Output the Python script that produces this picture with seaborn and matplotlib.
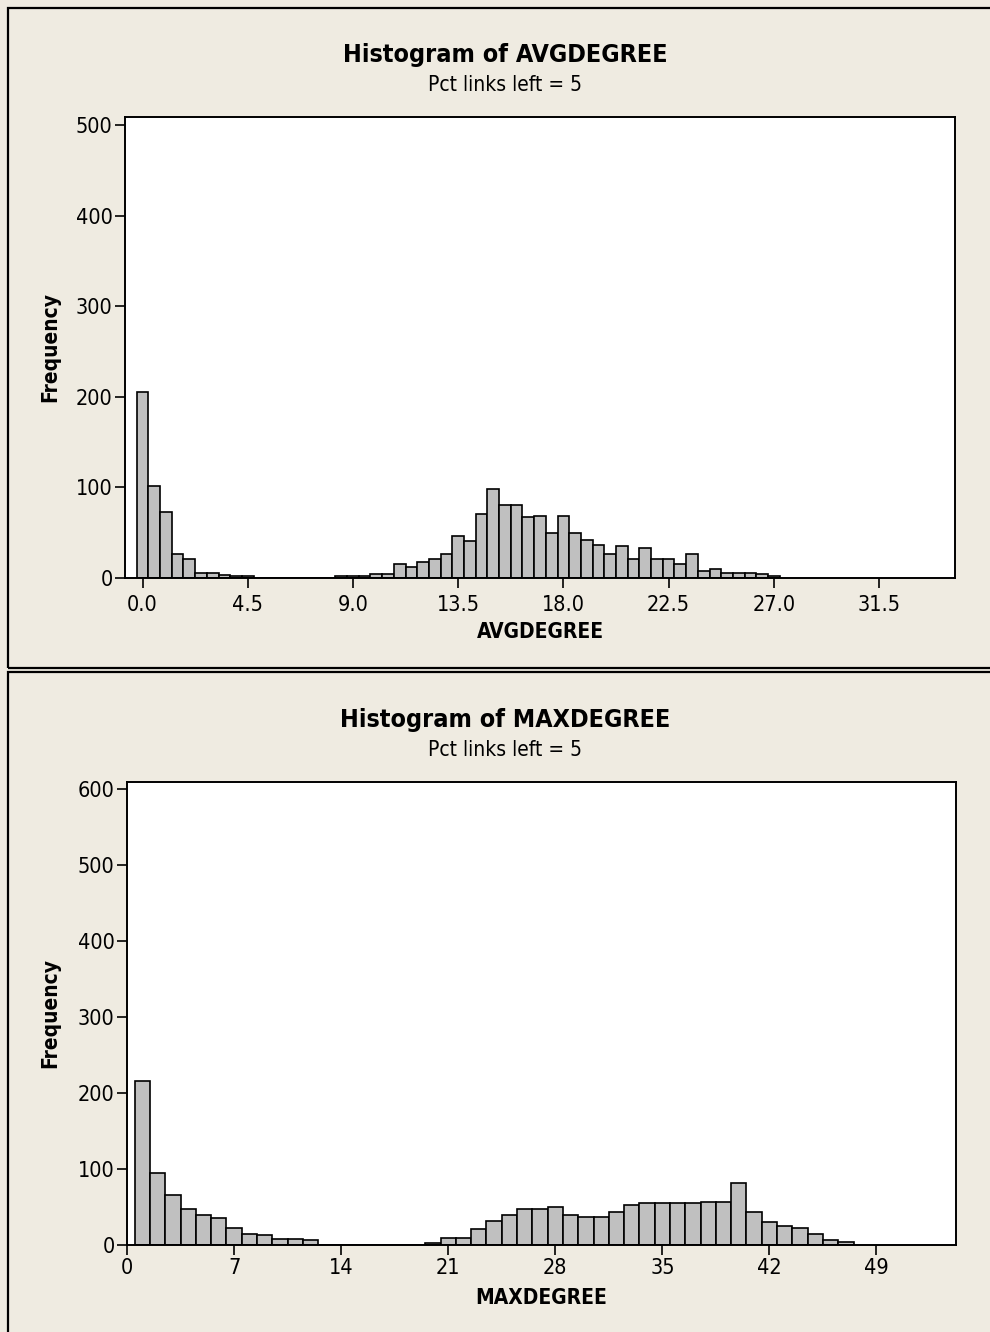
import numpy as np
import pandas as pd
import matplotlib
matplotlib.use("Agg")
import matplotlib.pyplot as plt
from matplotlib.patches import Rectangle
import seaborn as sns

# ---------------- data ----------------
avg_bin_centers = [0.0, 0.5, 1.0, 1.5, 2.0, 2.5, 3.0, 3.5, 4.0, 4.5, 5.0, 5.5, 6.0, 6.5,
                   7.0, 7.5, 8.0, 8.5, 9.0, 9.5, 10.0, 10.5, 11.0, 11.5, 12.0, 12.5,
                   13.0, 13.5, 14.0, 14.5, 15.0, 15.5, 16.0, 16.5, 17.0, 17.5, 18.0,
                   18.5, 19.0, 19.5, 20.0, 20.5, 21.0, 21.5, 22.0, 22.5, 23.0, 23.5,
                   24.0, 24.5, 25.0, 25.5, 26.0, 26.5, 27.0]
avg_counts = [205, 102, 73, 26, 21, 6, 5, 3, 2, 2, 0, 0, 0, 0,
              0, 0, 0, 2, 2, 2, 4, 4, 15, 12, 18, 21,
              27, 46, 41, 71, 98, 81, 81, 67, 69, 50, 69,
              50, 42, 36, 27, 35, 21, 33, 21, 21, 15, 27,
              8, 10, 6, 6, 6, 4, 2]
avg_ticks = [0.0, 4.5, 9.0, 13.5, 18.0, 22.5, 27.0, 31.5]
avg_tick_labels = ["0.0", "4.5", "9.0", "13.5", "18.0", "22.5", "27.0", "31.5"]
avg_yticks = [0, 100, 200, 300, 400, 500]

max_bin_centers = list(range(1, 48))
max_counts = [216, 95, 66, 47, 39, 36, 22, 15, 13, 8, 8, 6,
              0, 0, 0, 0, 0, 0, 0,
              2, 9, 9, 21, 32, 39, 48, 48, 50, 39, 37, 37, 43, 53, 55, 55,
              55, 55, 57, 57, 82, 43, 30, 25, 23, 14, 7, 4]
max_ticks = [0, 7, 14, 21, 28, 35, 42, 49]
max_tick_labels = ["0", "7", "14", "21", "28", "35", "42", "49"]
max_yticks = [0, 100, 200, 300, 400, 500, 600]

titles = ["Histogram of AVGDEGREE", "Histogram of MAXDEGREE"]
subtitle = "Pct links left = 5"
xlabels = ["AVGDEGREE", "MAXDEGREE"]
ylabel = "Frequency"

# ---------------- style ----------------
sns.set_style("white")
plt.rcParams['font.family'] = ['DejaVu Sans']
plt.rcParams['font.stretch'] = 'condensed'
plt.rcParams['text.color'] = 'black'
plt.rcParams['xtick.color'] = 'black'
plt.rcParams['ytick.color'] = 'black'
BG = "#EFEBE1"
BAR = "#C0C0C0"

W, H = 990, 1332
fig = plt.figure(figsize=(W / 100, H / 100), dpi=100)
fig.patch.set_facecolor(BG)

def fx(px):
    return px / W

def fy(py):
    return 1 - py / H

# panel frames
for (x0, y0, x1, y1) in [(8, 8, 1005, 668), (8, 672, 1005, 1340)]:
    fig.patches.append(Rectangle((fx(x0), fy(y1)), fx(x1 - x0), (y1 - y0) / H,
                                 transform=fig.transFigure, fill=False,
                                 edgecolor="black", linewidth=1.6, zorder=0))

def make_panel(rect_px, centers, counts, binw, xlim, ylim, xticks, xticklabels,
               yticks, title, xlabel, title_y, sub_y, xlabel_y, ylabel_x, xpad):
    l, t, r, b = rect_px
    ax = fig.add_axes([fx(l), fy(b), fx(r - l), (b - t) / H])
    ax.set_facecolor("white")
    df = pd.DataFrame({"x": np.asarray(centers, dtype=float),
                       "n": np.asarray(counts, dtype=float)})
    sns.histplot(data=df, x="x", weights="n", binwidth=binw,
                 binrange=(min(centers) - binw / 2, max(centers) + binw / 2),
                 ax=ax, color=BAR, edgecolor="black", linewidth=1.2, alpha=1.0)
    ax.set_xlim(*xlim)
    ax.set_ylim(*ylim)
    ax.set_xticks(xticks)
    ax.set_xticklabels(xticklabels)
    ax.set_yticks(yticks)
    ax.set_yticklabels([str(v) for v in yticks])
    ax.tick_params(axis="both", direction="out", length=7, width=1.2,
                   labelsize=15.5, colors="black", pad=2, bottom=True, left=True)
    ax.tick_params(axis="x", pad=xpad)
    for s in ax.spines.values():
        s.set_visible(True)
        s.set_color("black")
        s.set_linewidth(1.4)
    ax.set_xlabel("")
    ax.set_ylabel("")
    fig.text(fx(505), fy(title_y), title, ha="center", va="center",
             fontsize=18, fontweight="bold")
    fig.text(fx(505), fy(sub_y), subtitle, ha="center", va="center", fontsize=15)
    fig.text(fx((l + r) / 2), fy(xlabel_y), xlabel, ha="center", va="center",
             fontsize=15, fontweight="bold")
    fig.text(fx(ylabel_x), fy((t + b) / 2), ylabel, ha="center", va="center",
             rotation=90, fontsize=15, fontweight="bold")
    return ax

make_panel((125, 117, 955, 578), avg_bin_centers, avg_counts, 0.5,
           (-0.75, 34.75), (0, 509), avg_ticks, avg_tick_labels, avg_yticks,
           titles[0], xlabels[0], 55, 85, 632, 50, 5)
make_panel((127, 782, 956, 1245), max_bin_centers, max_counts, 1.0,
           (0, 54.2), (0, 609), max_ticks, max_tick_labels, max_yticks,
           titles[1], xlabels[1], 720, 750, 1298, 50, 2)

fig.savefig("out.png", dpi=100, facecolor=BG)
